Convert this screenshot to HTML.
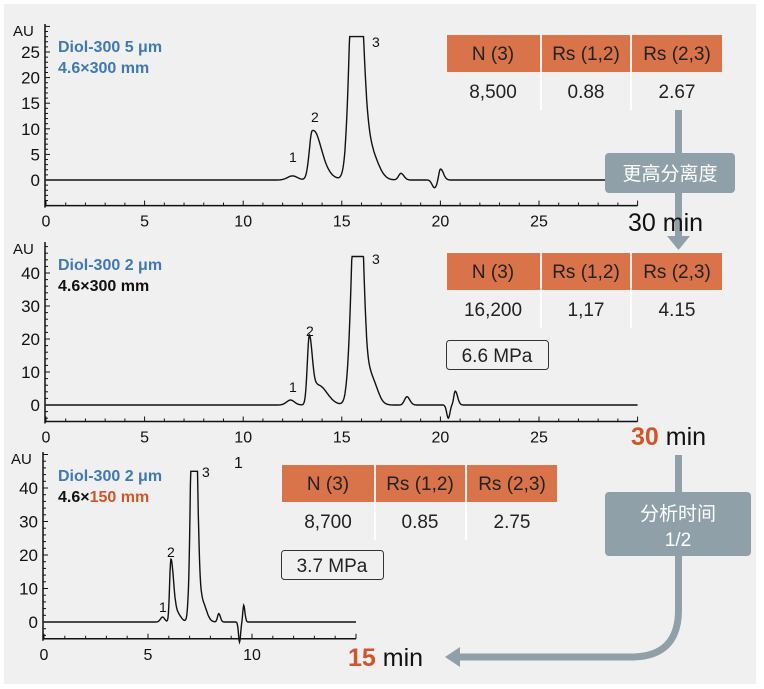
<!DOCTYPE html>
<html><head><meta charset="utf-8"><style>
body{margin:0;background:#fff;}
svg{display:block;font-family:"Liberation Sans","Noto Sans CJK SC",sans-serif;}
</style></head><body>
<svg id="s" width="764" height="689" viewBox="0 0 764 689" xmlns="http://www.w3.org/2000/svg">
<rect x="4" y="4" width="752" height="680" fill="#f0f0f0"/>
<g id="charts"></g>
<text x="58" y="52" font-size="16" font-weight="bold" fill="#3f78b5">Diol-300  5 μm</text>
<text x="58" y="73" font-size="16" font-weight="bold" fill="#3f78b5">4.6×300 mm</text>
<text x="58" y="270" font-size="16" font-weight="bold" fill="#3f78b5">Diol-300  2 μm</text>
<text x="58" y="291" font-size="16" font-weight="bold" fill="#111">4.6×300 mm</text>
<text x="58" y="481" font-size="16" font-weight="bold" fill="#3f78b5">Diol-300  2 μm</text>
<text x="58" y="502" font-size="16" font-weight="bold" fill="#111">4.6×<tspan fill="#d0552a">150 mm</tspan></text>
<g font-size="14" fill="#111">
<text x="289" y="162">1</text><text x="311" y="122">2</text><text x="372" y="47">3</text>
<text x="289" y="392">1</text><text x="306" y="336">2</text><text x="372" y="264">3</text>
<text x="159" y="612">1</text><text x="167" y="557">2</text><text x="202" y="477">3</text>
<text x="234" y="468" font-size="16">1</text>
</g>
<g font-size="19" text-anchor="middle" fill="#222">
<rect x="447" y="35" width="93" height="37" fill="#d9734a"/><rect x="542" y="35" width="88" height="37" fill="#d9734a"/><rect x="632" y="35" width="90" height="37" fill="#d9734a"/>
<rect x="540" y="72" width="2" height="38" fill="#fff"/><rect x="630" y="72" width="2" height="38" fill="#fff"/>
<text x="493" y="60">N (3)</text><text x="586" y="60">Rs (1,2)</text><text x="677" y="60">Rs (2,3)</text>
<text x="493" y="98">8,500</text><text x="586" y="98">0.88</text><text x="677" y="98">2.67</text>

<rect x="447" y="253" width="93" height="37" fill="#d9734a"/><rect x="542" y="253" width="88" height="37" fill="#d9734a"/><rect x="632" y="253" width="90" height="37" fill="#d9734a"/>
<rect x="540" y="290" width="2" height="38" fill="#fff"/><rect x="630" y="290" width="2" height="38" fill="#fff"/>
<text x="493" y="278">N (3)</text><text x="586" y="278">Rs (1,2)</text><text x="677" y="278">Rs (2,3)</text>
<text x="493" y="316">16,200</text><text x="586" y="316">1,17</text><text x="677" y="316">4.15</text>

<rect x="282" y="465" width="92" height="37" fill="#d9734a"/><rect x="376" y="465" width="89" height="37" fill="#d9734a"/><rect x="467" y="465" width="90" height="37" fill="#d9734a"/>
<rect x="374" y="502" width="2" height="38" fill="#fff"/><rect x="465" y="502" width="2" height="38" fill="#fff"/>
<text x="328" y="490">N (3)</text><text x="420" y="490">Rs (1,2)</text><text x="512" y="490">Rs (2,3)</text>
<text x="328" y="528">8,700</text><text x="420" y="528">0.85</text><text x="512" y="528">2.75</text>

<rect x="446.5" y="340.5" width="102" height="29" rx="3" fill="none" stroke="#333"/>
<text x="497" y="362">6.6 MPa</text>
<rect x="281.5" y="550.5" width="102" height="29" rx="3" fill="none" stroke="#333"/>
<text x="332" y="572">3.7 MPa</text>
</g>
<g fill="#8fa0a8" stroke="none">
<rect x="675" y="110" width="7" height="128"/>
<polygon points="667,236 690,236 678.5,250"/>
<rect x="605" y="153" width="130" height="40" rx="4"/>
<rect x="675" y="455" width="7" height="120"/>
<rect x="605" y="492" width="146" height="64" rx="4"/>
<polygon points="445,657 460,647 460,667"/>
</g>
<path d="M678.5 570 L678.5 610 Q678.5 657 631 657 L455 657" fill="none" stroke="#8fa0a8" stroke-width="7"/>
<g font-size="19" fill="#fff" text-anchor="middle">
<text x="670" y="180">更高分离度</text>
<text x="678" y="520">分析时间</text>
<text x="678" y="546">1/2</text>
</g>
<text x="628" y="231" font-size="25" fill="#111">30 min</text>
<text x="631" y="445" font-size="25" fill="#111"><tspan fill="#d0552a" font-weight="bold">30</tspan> min</text>
<text x="348" y="666" font-size="25" fill="#111"><tspan fill="#d0552a" font-weight="bold">15</tspan> min</text>
</svg>
<script>
function chart(o){
  var g='';
  var X=function(t){return o.x0+t*o.ppm;}, Y=function(v){return o.y0-v*o.ppu;};
  var ax=Y(-5);
  g+='<line x1="'+(o.x0-1)+'" y1="'+ax+'" x2="'+X(o.xmax)+'" y2="'+ax+'" stroke="#111" stroke-width="1.5"/>';
  g+='<line x1="'+(o.x0-1)+'" y1="'+(ax+2)+'" x2="'+(o.x0-1)+'" y2="'+o.ytop+'" stroke="#111" stroke-width="1.5"/>';
  for(var t=0;t<=o.xmax;t++){var big=t%5==0;g+='<line x1="'+X(t)+'" y1="'+ax+'" x2="'+X(t)+'" y2="'+(ax-(big?5:3))+'" stroke="#111"/>';
    if(big&&t<o.xmax)g+='<text x="'+X(t)+'" y="'+(ax+21)+'" font-size="16" text-anchor="middle" fill="#111">'+t+'</text>';}
  for(var v=-5;Y(v)>=o.ytop;v+=1){var big=(v%o.major===0);
    if(!big && v%o.minor!==0) continue;
    g+='<line x1="'+(o.x0-1)+'" y1="'+Y(v)+'" x2="'+(o.x0-1+(big?5:3))+'" y2="'+Y(v)+'" stroke="#111"/>';
    if(big&&v>=0&&v<=o.lmax)g+='<text x="'+(o.x0-6)+'" y="'+(Y(v)+6)+'" font-size="17" text-anchor="end" fill="#111">'+v+'</text>';}
  g+='<text x="'+(o.x0-33)+'" y="'+(o.ytop+12)+'" font-size="15" fill="#111">AU</text>';
  var d='';
  for(var t=0;t<=o.xend;t+=0.02){var v=0;
    o.pk.forEach(function(p){var s=t<p[0]?p[2]:p[3];v+=p[1]*Math.exp(-0.5*Math.pow((t-p[0])/s,2));});
    v=Math.min(v,o.clip);d+=(d?'L':'M')+X(t).toFixed(1)+' '+Y(v).toFixed(1);}
  g+='<path d="'+d+'" fill="none" stroke="#111" stroke-width="1.4"/>';
  return g;
}
var h='';
h+=chart({x0:46,ppm:19.72,y0:180,ppu:5.12,ytop:24,lmax:25,xmax:30,xend:28.9,minor:1,major:5,clip:28,
 pk:[[12.5,0.8,0.25,0.25],[13.5,9,0.15,0.4],[13.9,1.5,0.3,0.5],[15.7,60,0.25,0.3],[16.4,6,0.3,0.4],[18.0,1.3,0.12,0.15],[19.7,-1.5,0.12,0.12],[20.0,2.2,0.08,0.15]]});
h+=chart({x0:46,ppm:19.72,y0:405,ppu:3.3,ytop:242,lmax:40,xmax:30,xend:30,minor:2,major:10,clip:45,
 pk:[[12.4,1.5,0.2,0.2],[13.35,20,0.1,0.15],[13.8,6,0.25,0.45],[15.8,90,0.25,0.25],[16.5,8,0.2,0.3],[18.3,2.5,0.12,0.15],[20.4,-4,0.08,0.08],[20.75,4.2,0.07,0.12]]});
h+=chart({x0:44,ppm:20.8,y0:622,ppu:3.35,ytop:452,lmax:40,xmax:15,xend:15,minor:2,major:10,clip:45,
 pk:[[5.7,1.5,0.1,0.1],[6.1,18,0.06,0.12],[6.35,3,0.15,0.2],[7.2,100,0.12,0.14],[7.6,6,0.15,0.2],[8.4,2.5,0.06,0.08],[9.4,-6,0.05,0.05],[9.6,5,0.04,0.06]]});
document.getElementById('charts').innerHTML=h;
</script>
</body></html>
